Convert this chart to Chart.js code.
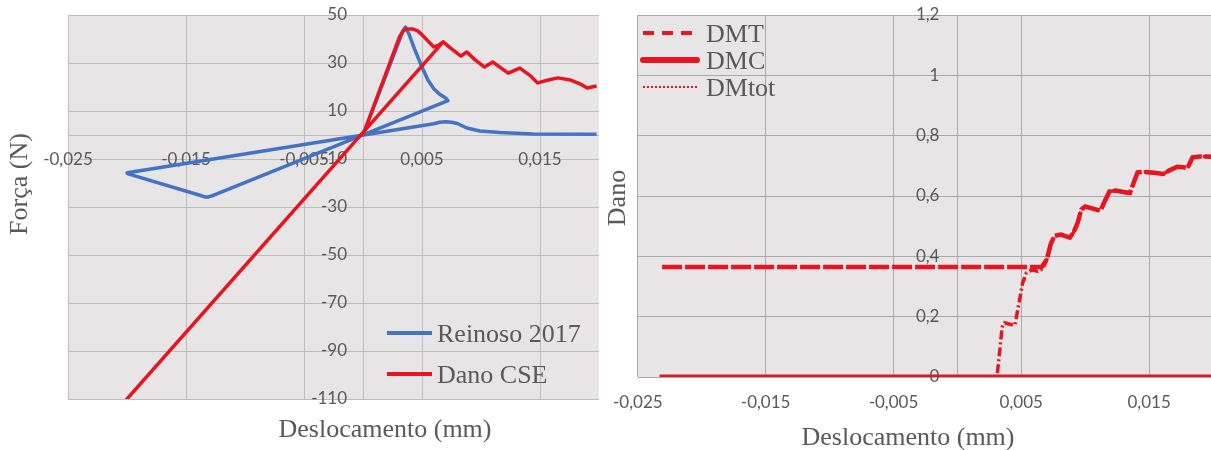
<!DOCTYPE html>
<html>
<head>
<meta charset="utf-8">
<script src="https://cdn.jsdelivr.net/npm/chart.js@4/dist/chart.umd.min.js"></script>
<style>
  html, body { margin: 0; padding: 0; background: #ffffff; overflow: hidden; width: 1211px; height: 450px; }
  #forcePanel { position: absolute; left: 0; top: 0; width: 598px; height: 450px; }
  #damagePanel { position: absolute; left: 598px; top: 0; width: 617px; height: 450px; }
  canvas { display: block; }
</style>
</head>
<body>
<div id="damagePanel"><canvas id="damageChart" width="617" height="450"></canvas></div>
<div id="forcePanel"><canvas id="forceChart" width="605" height="450"></canvas></div>
<script>
// ---- Força × deslocamento ----
// Reinoso 2017 (x in mm, force in N)
const reinosoX = [0, 0.0034, 0.0036, 0.0039, 0.0044, 0.0050, 0.0055, 0.0060, 0.0065, 0.0070, 0.0072,
                  -0.0127, -0.0131, -0.0134, -0.0139, -0.0199, -0.0200, -0.0197,
                  0.0060, 0.0065, 0.0070, 0.0075, 0.0080, 0.0088, 0.0099, 0.0116, 0.0144, 0.0198];
const reinosoF = [0, 43.5, 45.0, 42.0, 35.4, 28.3, 22.9, 19.3, 17.0, 15.4, 14.3,
                  -25.2, -25.8, -25.8, -25.0, -16.2, -15.8, -15.5,
                  4.7, 5.3, 5.5, 5.3, 4.8, 2.9, 1.7, 1.0, 0.4, 0.3];
// Dano CSE
const danoX = [0, 0.0031, 0.0034, 0.0037, 0.0042, 0.0046, 0.0050, 0.0055, 0.0060, 0.0064, 0.0068,
               -0.0200, 0.0068,
               0.0074, 0.0083, 0.0088, 0.0095, 0.0103, 0.0110, 0.0116, 0.0123, 0.0133, 0.0142,
               0.0148, 0.0157, 0.0165, 0.0176, 0.0184, 0.0190, 0.0198];
const danoF = [0, 41.0, 43.4, 44.2, 44.2, 43.5, 41.8, 39.2, 36.7, 37.4, 38.8,
               -110, 38.8,
               36.3, 32.9, 34.6, 31.3, 28.3, 30.4, 28.3, 25.8, 27.9, 24.6,
               21.7, 22.9, 23.8, 22.9, 21.3, 19.6, 20.4];

// ---- Dano × deslocamento ----
const dmtX = [-0.0231, 0.0066, 0.0070, 0.0073, 0.0076, 0.0081, 0.0088, 0.0091, 0.0094, 0.0097, 0.0100,
              0.0106, 0.0112, 0.0115, 0.0119, 0.0124, 0.0130, 0.0135, 0.0138, 0.0141, 0.0146,
              0.0154, 0.0161, 0.0166, 0.0172, 0.0177, 0.0180, 0.0182, 0.0184, 0.0190, 0.0200];
const dmtD = [0.365, 0.365, 0.39, 0.44, 0.468, 0.472, 0.462, 0.48, 0.51, 0.555, 0.565,
              0.558, 0.551, 0.58, 0.615, 0.618, 0.613, 0.61, 0.645, 0.678, 0.68,
              0.677, 0.673, 0.685, 0.697, 0.695, 0.692, 0.71, 0.728, 0.731, 0.73];
const dmcX = [-0.0233, 0.0200];
const dmcD = [0, 0];
const dmtotX = [-0.0232, 0.0031, 0.0033, 0.0035, 0.0037, 0.0041, 0.0045, 0.0048, 0.0051, 0.0054, 0.0058,
                0.0063, 0.0067, 0.0070, 0.0073, 0.0076, 0.0081, 0.0088, 0.0091, 0.0094, 0.0097, 0.0100,
                0.0106, 0.0112, 0.0115, 0.0119, 0.0124, 0.0130, 0.0135, 0.0138, 0.0141, 0.0146,
                0.0154, 0.0161, 0.0166, 0.0172, 0.0177, 0.0180, 0.0182, 0.0184, 0.0190, 0.0200];
const dmtotD = [0, 0, 0.08, 0.165, 0.18, 0.175, 0.172, 0.24, 0.31, 0.345, 0.355,
                0.35, 0.36, 0.39, 0.44, 0.468, 0.472, 0.462, 0.48, 0.51, 0.555, 0.565,
                0.558, 0.551, 0.58, 0.615, 0.618, 0.613, 0.61, 0.645, 0.678, 0.68,
                0.677, 0.673, 0.685, 0.697, 0.695, 0.692, 0.71, 0.728, 0.731, 0.73];

// ---- Axis ticks ----
const dispTicks = [-0.025, -0.015, -0.005, 0.005, 0.015];
const forceTicks = [-110, -90, -70, -50, -30, -10, 10, 30, 50];
const damageTicks = [0, 0.2, 0.4, 0.6, 0.8, 1, 1.2];

const RED = '#E8141E';
const BLUE = '#4472C4';
const TEXT = '#595959';
const SERIF = '26px "Liberation Serif", "Times New Roman", serif';

const zip = (xs, ys) => xs.map((x, i) => ({ x, y: ys[i] }));
const fmt = v => String(Math.round(v * 1000) / 1000).replace('.', ',');
const withZero = arr => arr.concat([0]).sort((a, b) => a - b);

// grid-bearing scale (no labels); the zero value carries the axis line
function gridScale(axis, min, max, values, color) {
  return {
    type: 'linear', axis, position: axis === 'x' ? 'bottom' : 'left', min, max,
    afterBuildTicks: s => { s.ticks = values.map(v => ({ value: v })); },
    ticks: { display: false },
    grid: { color, lineWidth: 1, drawTicks: false },
    border: { display: false }
  };
}
// label-only scale anchored on the crossing axis
function labelScale(axis, min, max, values, anchor, padding) {
  return {
    type: 'linear', axis, position: anchor, min, max,
    afterBuildTicks: s => { s.ticks = values.map(v => ({ value: v })); },
    ticks: {
      display: true, padding, color: TEXT, autoSkip: false, maxRotation: 0, minRotation: 0,
      font: { family: 'Lato', size: 17 }, callback: fmt
    },
    grid: { display: false, drawTicks: false },
    border: { display: false }
  };
}

const plotBackground = {
  id: 'plotBackground',
  beforeDraw(chart, args, opts) {
    const { ctx, chartArea: a } = chart;
    ctx.save();
    ctx.fillStyle = opts.color;
    ctx.fillRect(a.left, a.top, a.right - a.left, a.bottom - a.top);
    ctx.restore();
  }
};

const axisCaptions = {
  id: 'axisCaptions',
  afterDraw(chart, args, opts) {
    const ctx = chart.ctx;
    ctx.save();
    ctx.fillStyle = TEXT;
    ctx.font = SERIF;
    for (const c of opts.items) {
      ctx.save();
      ctx.translate(c.x, c.y);
      if (c.rotate) ctx.rotate(-Math.PI / 2);
      ctx.textAlign = 'center';
      ctx.textBaseline = c.rotate ? 'middle' : 'alphabetic';
      ctx.fillText(c.text, 0, 0);
      ctx.restore();
    }
    ctx.restore();
  }
};

const lineKey = {
  id: 'lineKey',
  afterDatasetsDraw(chart, args, opts) {
    const ctx = chart.ctx;
    const ds = chart.data.datasets;
    ctx.save();
    ctx.font = SERIF;
    ctx.fillStyle = TEXT;
    ctx.textAlign = 'left';
    ctx.textBaseline = 'alphabetic';
    opts.rows.forEach((row, i) => {
      const d = ds[row.dataset];
      const y = opts.y + i * opts.rowGap;
      ctx.save();
      ctx.strokeStyle = d.borderColor;
      ctx.lineWidth = row.width;
      ctx.setLineDash(row.dash || []);
      ctx.lineCap = row.cap || 'butt';
      ctx.beginPath();
      ctx.moveTo(opts.x, y);
      ctx.lineTo(opts.x + row.length, y);
      ctx.stroke();
      ctx.restore();
      ctx.fillText(d.label, opts.x + opts.length + opts.gap, y + opts.drop);
    });
    ctx.restore();
  }
};

Chart.defaults.font.family = 'Lato';
Chart.defaults.animation = false;

new Chart(document.getElementById('forceChart'), {
  type: 'scatter',
  data: {
    datasets: [
      { label: 'Reinoso 2017', data: zip(reinosoX, reinosoF), showLine: true, borderColor: BLUE,
        borderWidth: 3.5, pointRadius: 0, tension: 0, borderJoinStyle: 'round', order: 1 },
      { label: 'Dano CSE', data: zip(danoX, danoF), showLine: true, borderColor: RED,
        borderWidth: 3.5, pointRadius: 0, tension: 0, borderJoinStyle: 'round', order: 0 }
    ]
  },
  options: {
    responsive: false,
    devicePixelRatio: 1,
    layout: { padding: { left: 68, right: 6, top: 15, bottom: 51 } },
    scales: {
      x: gridScale('x', -0.025, 0.02, withZero(dispTicks), '#BDBDBD'),
      y: gridScale('y', -110, 50, withZero(forceTicks), '#BDBDBD'),
      xLab: labelScale('x', -0.025, 0.02, dispTicks, { y: 0 }, 14),
      yLab: labelScale('y', -110, 50, forceTicks, { x: -0.00135 }, 0)
    },
    plugins: {
      legend: { display: false },
      tooltip: { enabled: false },
      plotBackground: { color: '#E7E5E6' },
      axisCaptions: { items: [
        { text: 'Deslocamento (mm)', x: 385, y: 437 },
        { text: 'Força (N)', x: 20, y: 184, rotate: true }
      ] },
      lineKey: { x: 387, y: 333, rowGap: 41, length: 45, gap: 5, drop: 9, rows: [
        { dataset: 0, width: 4, length: 45 },
        { dataset: 1, width: 4, length: 45 }
      ] }
    }
  },
  plugins: [plotBackground, axisCaptions, lineKey]
});

new Chart(document.getElementById('damageChart'), {
  type: 'scatter',
  data: {
    datasets: [
      { label: 'DMT', data: zip(dmtX, dmtD), showLine: true, borderColor: RED, borderWidth: 4.5,
        borderDash: [20, 3], pointRadius: 0, tension: 0, order: 2 },
      { label: 'DMC', data: zip(dmcX, dmcD), showLine: true, borderColor: RED, borderWidth: 5,
        pointRadius: 0, tension: 0, order: 0 },
      { label: 'DMtot', data: zip(dmtotX, dmtotD), showLine: true, borderColor: RED, borderWidth: 3.5,
        borderDash: [9, 3, 2, 3], pointRadius: 0, tension: 0, order: 1 }
    ]
  },
  options: {
    responsive: false,
    devicePixelRatio: 1,
    layout: { padding: { left: 39, right: 2, top: 15, bottom: 73 } },
    scales: {
      x: gridScale('x', -0.025, 0.02, withZero(dispTicks), '#A9A9A9'),
      y: gridScale('y', 0, 1.2, damageTicks, '#A9A9A9'),
      xLab: labelScale('x', -0.025, 0.02, dispTicks, { y: 0 }, 15),
      yLab: labelScale('y', 0, 1.2, damageTicks, { x: -0.0014 }, 0)
    },
    plugins: {
      legend: { display: false },
      tooltip: { enabled: false },
      plotBackground: { color: '#E7E5E6' },
      axisCaptions: { items: [
        { text: 'Deslocamento (mm)', x: 310, y: 445 },
        { text: 'Dano', x: 20, y: 198, rotate: true }
      ] },
      lineKey: { x: 45, y: 33, rowGap: 27, length: 57, gap: 6, drop: 9, rows: [
        { dataset: 0, width: 4, dash: [11, 8], length: 57 },
        { dataset: 1, width: 6, cap: 'round', length: 54 },
        { dataset: 2, width: 2, dash: [2, 2], length: 54 }
      ] }
    }
  },
  plugins: [plotBackground, axisCaptions, lineKey]
});
</script>
</body>
</html>
